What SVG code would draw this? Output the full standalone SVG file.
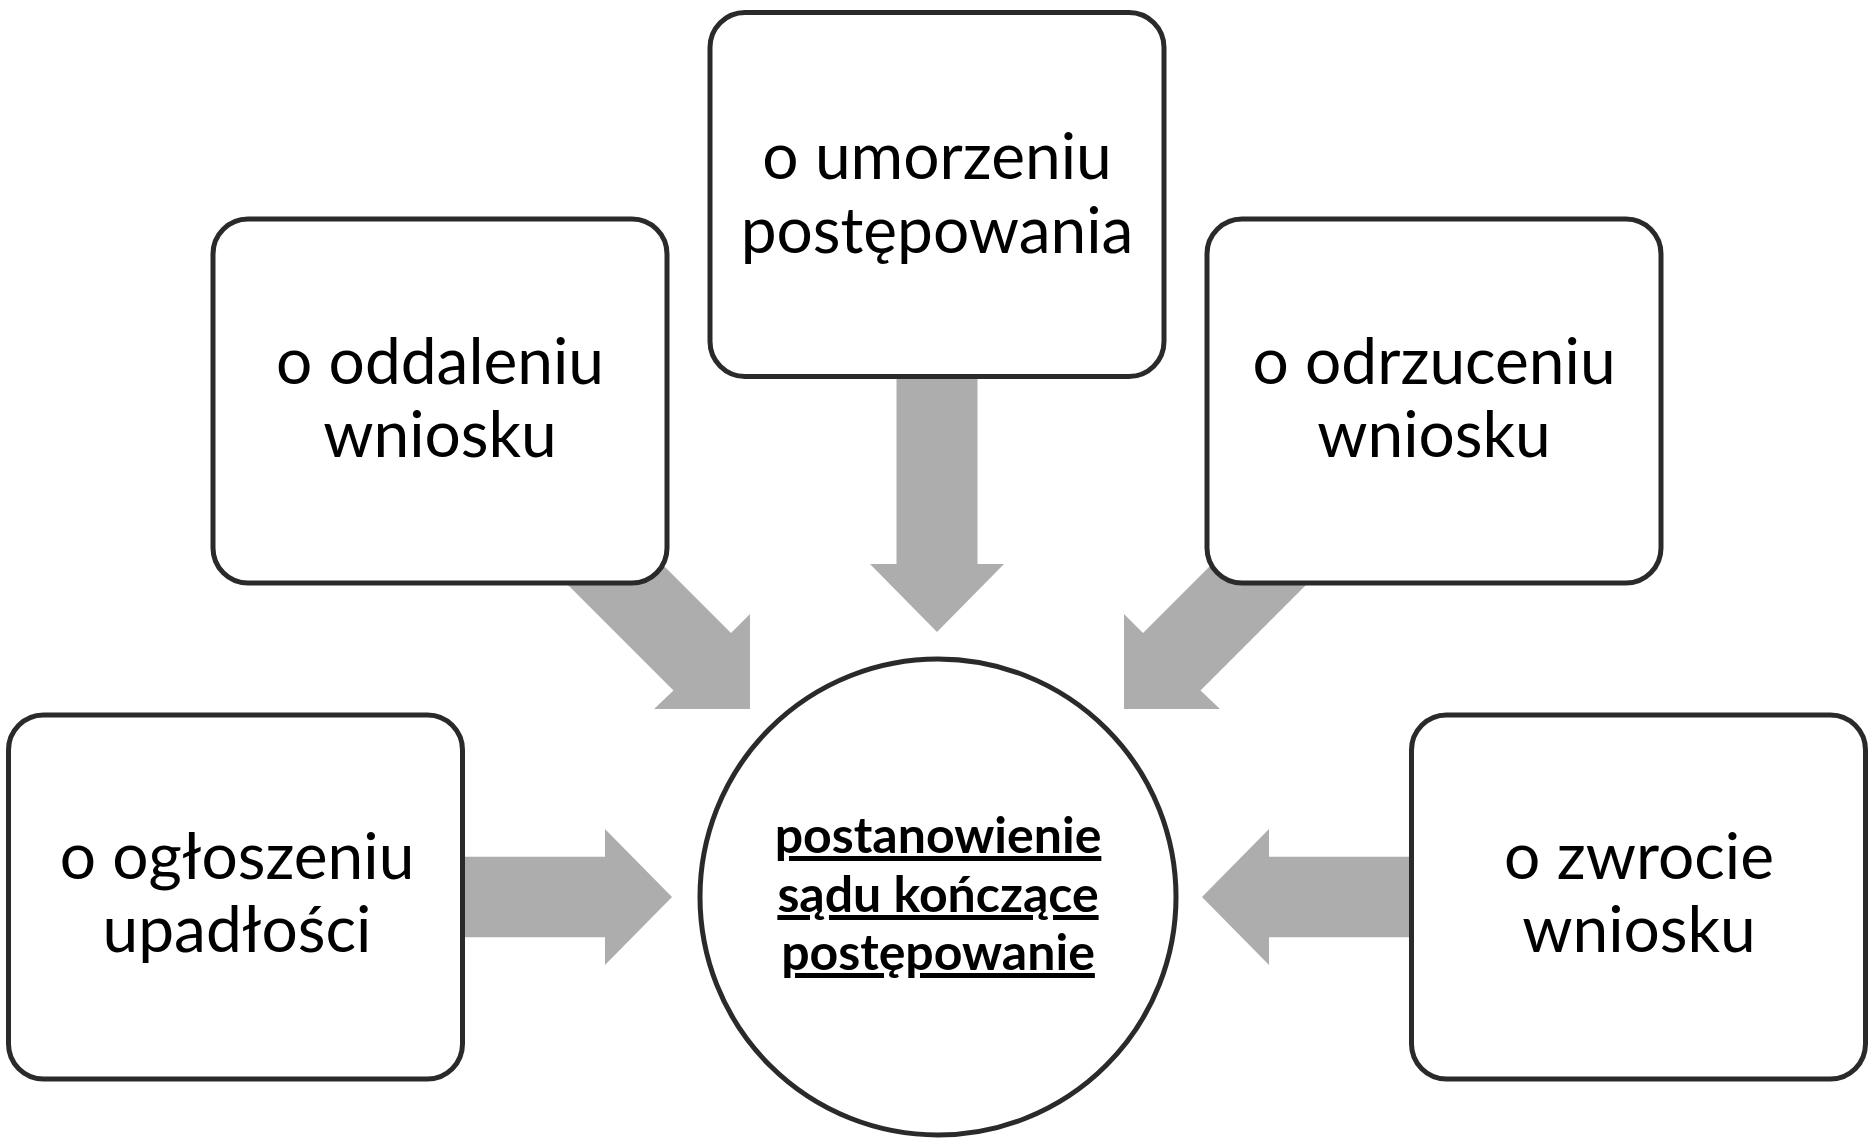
<svg xmlns="http://www.w3.org/2000/svg" width="1874" height="1139" viewBox="0 0 1874 1139">
<style>
.arrow{fill:#adadad;}
.box{fill:#ffffff;stroke:#2a2a2a;stroke-width:5;}
.lbl{font-family:Lato,"Noto Sans",sans-serif;font-size:64px;fill:#000;text-anchor:middle;}
.ctr{font-family:Lato,"Noto Sans",sans-serif;font-size:50px;font-weight:bold;fill:#000;text-anchor:middle;text-decoration:underline;}
</style>
<rect width="1874" height="1139" fill="#ffffff"/>
<g id="connectors">
<polygon class="arrow" points="455,856.7 605,856.7 605,829 672,897 605,965 605,937.3 455,937.3"/>
<polygon class="arrow" points="1419,856.7 1269,856.7 1269,829 1202,897 1269,965 1269,937.3 1419,937.3"/>
<polygon class="arrow" points="896.5,370 977.5,370 977.5,564 1004,564 937,632 870,564 896.5,564"/>
<polygon class="arrow" points="560,577 673.5,690.5 654,709 750,709 750,614 731,633 617.5,519.5"/>
<polygon class="arrow" points="1314,577 1200.5,690.5 1220,709 1124,709 1124,614 1143,633 1256.5,519.5"/>
</g>
<g id="node-oglaszeniu">
<rect class="box" x="8.5" y="715" width="454" height="364" rx="35"/>
<text class="lbl" x="237" y="879">o ogłoszeniu</text>
<text class="lbl" x="237" y="952">upadłości</text>
</g>
<g id="node-oddaleniu">
<rect class="box" x="213" y="219" width="454" height="364" rx="35"/>
<text class="lbl" x="440" y="384">o oddaleniu</text>
<text class="lbl" x="440" y="457">wniosku</text>
</g>
<g id="node-umorzeniu">
<rect class="box" x="710" y="12.5" width="454" height="364" rx="35"/>
<text class="lbl" x="937" y="179">o umorzeniu</text>
<text class="lbl" x="937" y="253">postępowania</text>
</g>
<g id="node-odrzuceniu">
<rect class="box" x="1207" y="219" width="454" height="364" rx="35"/>
<text class="lbl" x="1434" y="384">o odrzuceniu</text>
<text class="lbl" x="1434" y="457">wniosku</text>
</g>
<g id="node-zwrocie">
<rect class="box" x="1411.5" y="715" width="454" height="364" rx="35"/>
<text class="lbl" x="1639" y="879">o zwrocie</text>
<text class="lbl" x="1639" y="952">wniosku</text>
</g>
<g id="node-center">
<circle class="box" cx="938" cy="897" r="238"/>
<text class="ctr" x="938" y="853">postanowienie</text>
<text class="ctr" x="938" y="912">sądu kończące</text>
<text class="ctr" x="938" y="970">postępowanie</text>
</g>
</svg>
